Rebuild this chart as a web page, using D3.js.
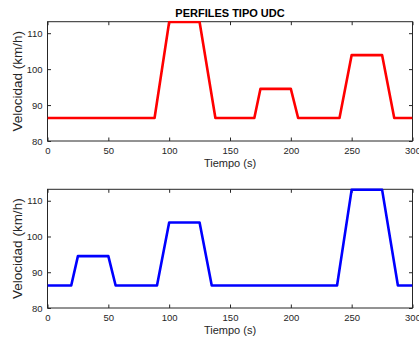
<!DOCTYPE html>
<html>
<head>
<meta charset="utf-8">
<script src="https://cdn.jsdelivr.net/npm/d3@7"></script>
<style>
  body { margin: 0; background: #fff; }
  svg { display: block; }
  .axis text { font-family: Arial, "Liberation Sans", sans-serif; font-size: 9.5px; fill: #262626; }
  .axis path, .axis line { stroke: #262626; }
</style>
</head>
<body>
<svg id="chart" width="419" height="338"></svg>
<script>
// Speed profiles (time in s, speed in km/h)
const timeTop = [0, 88, 100, 125, 138, 170, 175, 200, 206, 240, 250, 275, 285, 300];
const speedTop = [86.4, 86.4, 113.1, 113.1, 86.4, 86.4, 94.5, 94.5, 86.4, 86.4, 103.9, 103.9, 86.4, 86.4];

const timeBottom = [0, 19.5, 25, 50, 56, 90, 100, 125, 135, 238, 250, 275, 288, 300];
const speedBottom = [86.3, 86.3, 94.5, 94.5, 86.3, 86.3, 103.9, 103.9, 86.3, 86.3, 113.1, 113.1, 86.3, 86.3];

const xTicks = [0, 50, 100, 150, 200, 250, 300];
const yTicks = [80, 90, 100, 110];

const titleText = 'PERFILES TIPO UDC';
const xLabel = 'Tiempo (s)';
const yLabel = 'Velocidad (km/h)';

const svg = d3.select('#chart');
const left = 47.5;
const right = 412.5;
const fontFam = 'Arial, "Liberation Sans", sans-serif';

// draw one panel
function drawPanel(times, speeds, color, top, bottom, title) {
  const data = times.map((t, i) => ({ t: t, v: speeds[i] }));

  const xScale = d3.scaleLinear()
    .domain([0, 300])
    .range([left, right]);

  const yScale = d3.scaleLinear()
    .domain([80, 113.2])
    .range([bottom, top]);

  const g = svg.append('g');

  // axes with inward ticks (matlab style)
  g.append('g')
    .attr('class', 'axis')
    .attr('transform', `translate(0,${bottom})`)
    .call(d3.axisBottom(xScale).tickValues(xTicks).tickSizeInner(-3.5).tickSizeOuter(0).tickPadding(6))
    .call(a => a.select('.domain').remove());

  g.append('g')
    .attr('class', 'axis')
    .attr('transform', `translate(0,${top})`)
    .call(d3.axisTop(xScale).tickValues(xTicks).tickSizeInner(-3.5).tickSizeOuter(0).tickFormat(''))
    .call(a => a.select('.domain').remove());

  g.append('g')
    .attr('class', 'axis')
    .attr('transform', `translate(${left},0)`)
    .call(d3.axisLeft(yScale).tickValues(yTicks).tickSizeInner(-3.5).tickSizeOuter(0).tickPadding(5))
    .call(a => a.select('.domain').remove());

  g.append('g')
    .attr('class', 'axis')
    .attr('transform', `translate(${right},0)`)
    .call(d3.axisRight(yScale).tickValues(yTicks).tickSizeInner(-3.5).tickSizeOuter(0).tickFormat(''))
    .call(a => a.select('.domain').remove());

  // box
  g.append('rect')
    .attr('x', left)
    .attr('y', top)
    .attr('width', right - left)
    .attr('height', bottom - top)
    .attr('fill', 'none')
    .attr('stroke', '#262626')
    .attr('stroke-width', 1);

  // clip so the line does not overflow the box
  const clipId = 'clip' + Math.round(top);
  g.append('clipPath')
    .attr('id', clipId)
    .append('rect')
    .attr('x', left)
    .attr('y', top - 1)
    .attr('width', right - left)
    .attr('height', bottom - top + 2);

  const lineFunction = d3.line()
    .x(d => xScale(d.t))
    .y(d => yScale(d.v))
    .curve(d3.curveLinear);

  g.append('path')
    .attr('d', lineFunction(data))
    .attr('clip-path', `url(#${clipId})`)
    .attr('stroke', color)
    .attr('stroke-width', 2.6)
    .attr('stroke-linejoin', 'round')
    .attr('fill', 'none');

  // labels
  g.append('text')
    .text(xLabel)
    .attr('x', (left + right) / 2)
    .attr('y', bottom + 26)
    .attr('text-anchor', 'middle')
    .attr('font-family', fontFam)
    .attr('font-size', '11px')
    .attr('fill', '#262626');

  g.append('text')
    .text(yLabel)
    .attr('transform', `translate(22,${(top + bottom) / 2}) rotate(-90)`)
    .attr('text-anchor', 'middle')
    .attr('font-family', fontFam)
    .attr('font-size', '13.5px')
    .attr('fill', '#262626');

  if (title) {
    g.append('text')
      .text(title)
      .attr('x', (left + right) / 2)
      .attr('y', top - 5)
      .attr('text-anchor', 'middle')
      .attr('font-family', fontFam)
      .attr('font-size', '11px')
      .attr('font-weight', 'bold')
      .attr('fill', '#000');
  }
}

drawPanel(timeTop, speedTop, '#ff0000', 21.7, 141, titleText);
drawPanel(timeBottom, speedBottom, '#0000ff', 189.3, 308, null);
</script>
</body>
</html>
